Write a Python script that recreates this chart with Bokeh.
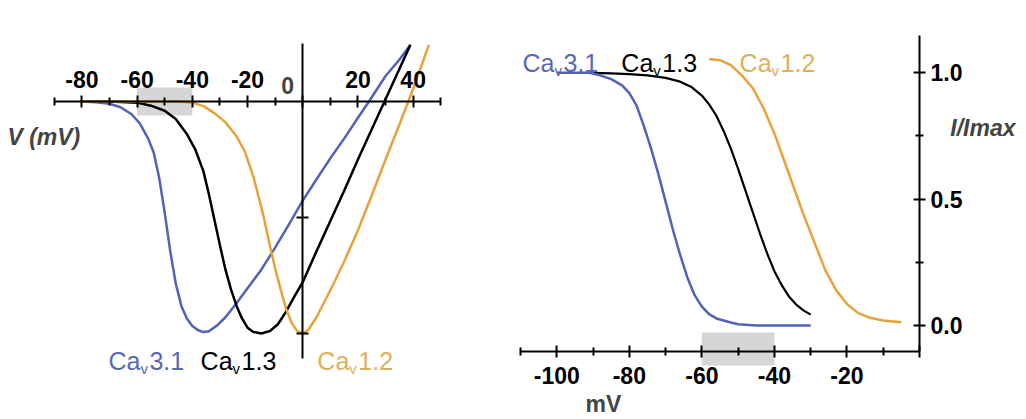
from bokeh.plotting import figure
from bokeh.models import Range1d, LinearAxis, FixedTicker, Label, BoxAnnotation, NumeralTickFormatter
from bokeh.layouts import row
from bokeh.embed import file_html
from bokeh.resources import INLINE

# ---------------- data: left panel, normalized I-V curves ----------------
iv_v_cav31 = [-80, -75, -70, -66, -62, -59, -56, -54, -52, -50, -48, -46, -44, -42, -40, -38, -36,
              -34, -31, -28, -24, -20, -15, -10, -5, 0, 5, 10, 15, 20, 24, 30, 35, 39]
iv_i_cav31 = [0.0, -0.003, -0.01, -0.025, -0.055, -0.095, -0.16, -0.22, -0.33, -0.48, -0.645, -0.785,
              -0.88, -0.935, -0.968, -0.985, -0.994, -0.99, -0.965, -0.93, -0.87, -0.805, -0.725, -0.63,
              -0.53, -0.427, -0.335, -0.245, -0.16, -0.07, 0.0, 0.11, 0.18, 0.245]

iv_v_cav13 = [-80, -70, -60, -55, -50, -46, -42, -39, -36, -34, -32, -30, -28, -26, -24, -22, -20, -18,
              -15, -12, -9, -6, -3, 0, 5, 10, 15, 20, 25, 30, 35, 39]
iv_i_cav13 = [0.0, 0.0, -0.005, -0.018, -0.04, -0.075, -0.14, -0.205, -0.30, -0.40, -0.51, -0.62, -0.725,
              -0.81, -0.88, -0.935, -0.975, -0.993, -1.0, -0.99, -0.96, -0.905, -0.84, -0.779, -0.645,
              -0.515, -0.385, -0.25, -0.12, 0.01, 0.14, 0.244]

iv_v_cav12 = [-80, -60, -45, -40, -36, -32, -28, -24, -21, -18, -16, -14, -12, -10, -8, -6, -4, -2, 0,
              2, 5, 8, 11, 15, 20, 25, 30, 35, 40, 45.7]
iv_i_cav12 = [0.0, 0.0, 0.0, -0.005, -0.02, -0.05, -0.09, -0.15, -0.215, -0.32, -0.41, -0.505, -0.615,
              -0.72, -0.81, -0.895, -0.955, -0.99, -1.0, -0.985, -0.93, -0.86, -0.79, -0.69, -0.555,
              -0.405, -0.25, -0.1, 0.055, 0.244]

# ---------------- data: right panel, steady-state inactivation ----------------
inact_v_cav31 = [-100, -95, -91, -88, -85, -82, -80, -78, -76, -74, -72, -70, -68, -66, -64, -62, -60,
                 -58, -56, -54, -52, -50, -45, -40, -35, -30]
inact_i_cav31 = [1.0, 1.0, 1.0, 0.99, 0.975, 0.95, 0.92, 0.87, 0.79, 0.70, 0.60, 0.49, 0.38, 0.28, 0.19,
                 0.12, 0.075, 0.045, 0.028, 0.02, 0.012, 0.005, 0.0, 0.0, 0.0, 0.0]

inact_v_cav13 = [-90, -85, -80, -75, -70, -66, -63, -60, -58, -56, -54, -52, -50, -48, -46, -44, -42,
                 -40, -38, -36, -34, -32, -30]
inact_i_cav13 = [1.0, 0.998, 0.995, 0.99, 0.98, 0.965, 0.945, 0.91, 0.875, 0.83, 0.77, 0.70, 0.62,
                 0.535, 0.45, 0.365, 0.285, 0.215, 0.16, 0.115, 0.083, 0.06, 0.043]

inact_v_cav12 = [-58, -55, -52, -49, -46, -43, -40, -37, -34.5, -32, -29, -26, -23, -20, -17, -14, -10, -5]
inact_i_cav12 = [1.055, 1.05, 1.03, 0.99, 0.94, 0.86, 0.76, 0.64, 0.54, 0.44, 0.33, 0.22, 0.14, 0.085,
                 0.05, 0.032, 0.02, 0.013]

highlight_v = [-60, -40]

left_x_ticks = [-80, -60, -40, -20, 0, 20, 40]
left_x_minor = [-90, -70, -50, -30, -10, 10, 30, 50]
left_y_ticks = [-1.0, -0.5]
right_x_ticks = [-100, -80, -60, -40, -20, 0]
right_x_minor = [-110, -90, -70, -50, -30, -10]
right_y_ticks = [0.0, 0.5, 1.0]
right_y_minor = [0.25, 0.75]

BLUE = "#5361B8"
BLACK = "#000000"
ORANGE = "#E8A23A"
BLUE_T = "#5A67B6"
ORANGE_T = "#DDB05E"
GRAY = "#D6D6D8"
FONT = "Liberation Sans"
TICK_SIZE = "23px"


def style_axis(ax, size=TICK_SIZE):
    ax.axis_line_width = 2
    ax.axis_line_color = "black"
    ax.major_tick_line_width = 2
    ax.minor_tick_line_width = 2
    ax.major_tick_in = 6
    ax.major_tick_out = 6
    ax.minor_tick_in = 4
    ax.minor_tick_out = 4
    ax.major_label_text_font = FONT
    ax.major_label_text_font_style = "bold"
    ax.major_label_text_font_size = size
    ax.major_label_text_color = "black"


def tick_text(ticks):
    return {t: ("" if t == 0 else str(t)) for t in ticks}


def ca_label(p, x, y, suffix, color, size=25):
    common = dict(x=x, y=y, text_font=FONT, text_color=color, text_baseline="alphabetic")
    ca_w = int(round(size * 1.278))
    p.add_layout(Label(text="Ca", text_font_size=f"{size}px", **common))
    p.add_layout(Label(text="v", text_font_size=f"{int(size * 0.6)}px", x_offset=ca_w, y_offset=-7, **common))
    p.add_layout(Label(text=suffix, text_font_size=f"{size}px", x_offset=ca_w + 9, **common))


# ---------------- left panel (frame = whole canvas, axes cross at the origin) ----------------
p1 = figure(width=480, height=416, x_range=Range1d(-109.5, 64.4), y_range=Range1d(-1.3578, 0.4353),
            output_backend="svg", toolbar_location=None, x_axis_location=None, y_axis_location=None,
            min_border=0, outline_line_color=None)
p1.grid.visible = False

p1.add_layout(BoxAnnotation(left=highlight_v[0], right=highlight_v[1], bottom=-0.06, top=0.06,
                            fill_color=GRAY, fill_alpha=1.0, line_color=None, level="underlay"))

xax1 = LinearAxis(fixed_location=0, bounds=(-90, 50),
                  ticker=FixedTicker(ticks=left_x_ticks, minor_ticks=left_x_minor),
                  major_label_overrides=tick_text(left_x_ticks), major_label_standoff=7)
style_axis(xax1)
p1.add_layout(xax1, "above")

yax1 = LinearAxis(fixed_location=0, bounds=(-1.107, 0.249),
                  ticker=FixedTicker(ticks=left_y_ticks, minor_ticks=[]),
                  major_label_overrides={-1.0: "", -0.5: ""})
style_axis(yax1)
p1.add_layout(yax1, "left")

p1.line(iv_v_cav31, iv_i_cav31, line_color=BLUE, line_width=2.5)
p1.line(iv_v_cav13, iv_i_cav13, line_color=BLACK, line_width=2.5)
p1.line(iv_v_cav12, iv_i_cav12, line_color=ORANGE, line_width=2.5)

p1.add_layout(Label(x=-5.5, y=0.069, text="0", text_font=FONT, text_font_style="bold",
                    text_font_size=TICK_SIZE, text_align="center", text_baseline="alphabetic"))
p1.add_layout(Label(x=-107.0, y=-0.151, text="V (mV)", text_font=FONT, text_font_style="bold italic",
                    text_font_size="23px", text_baseline="alphabetic"))

ca_label(p1, -70.4, -1.1207, "3.1", BLUE_T)
ca_label(p1, -37.0, -1.1207, "1.3", BLACK)
ca_label(p1, 5.3, -1.1207, "1.2", ORANGE_T)

# ---------------- right panel (frame = whole canvas) ----------------
p2 = figure(width=540, height=416, x_range=Range1d(-121.03, 27.85), y_range=Range1d(-0.3601, 1.2861),
            output_backend="svg", toolbar_location=None, x_axis_location=None, y_axis_location=None,
            min_border=0, outline_line_color=None)
p2.grid.visible = False

p2.add_layout(BoxAnnotation(left=highlight_v[0], right=highlight_v[1], bottom=-0.158, top=-0.028,
                            fill_color=GRAY, fill_alpha=1.0, line_color=None, level="underlay"))

xax2 = LinearAxis(fixed_location=-0.1029, bounds=(-110, 0),
                  ticker=FixedTicker(ticks=right_x_ticks, minor_ticks=right_x_minor),
                  major_label_overrides=tick_text(right_x_ticks), major_label_standoff=9)
style_axis(xax2)
p2.add_layout(xax2, "below")

yax2 = LinearAxis(fixed_location=0, bounds=(-0.1029, 1.1476),
                  ticker=FixedTicker(ticks=right_y_ticks, minor_ticks=right_y_minor),
                  formatter=NumeralTickFormatter(format="0.0"), major_label_standoff=5)
style_axis(yax2)
p2.add_layout(yax2, "right")

p2.line(inact_v_cav13, inact_i_cav13, line_color=BLACK, line_width=2.2)
p2.line(inact_v_cav31, inact_i_cav31, line_color=BLUE, line_width=2.5)
p2.line(inact_v_cav12, inact_i_cav12, line_color=ORANGE, line_width=2.5)

p2.add_layout(Label(x=8.5, y=0.78, text="I/Imax", text_font=FONT, text_font_style="bold italic",
                    text_font_size="23px", text_baseline="alphabetic"))
p2.add_layout(Label(x=-92.1, y=-0.31, text="mV", text_font=FONT, text_font_style="bold",
                    text_font_size="23px", text_baseline="alphabetic"))

ca_label(p2, -109.45, 1.037, "3.1", BLUE_T)
ca_label(p2, -82.2, 1.037, "1.3", BLACK)
ca_label(p2, -49.6, 1.037, "1.2", ORANGE_T)

layout = row(p1, p2)
open("out.html", "w").write(file_html(layout, INLINE))
